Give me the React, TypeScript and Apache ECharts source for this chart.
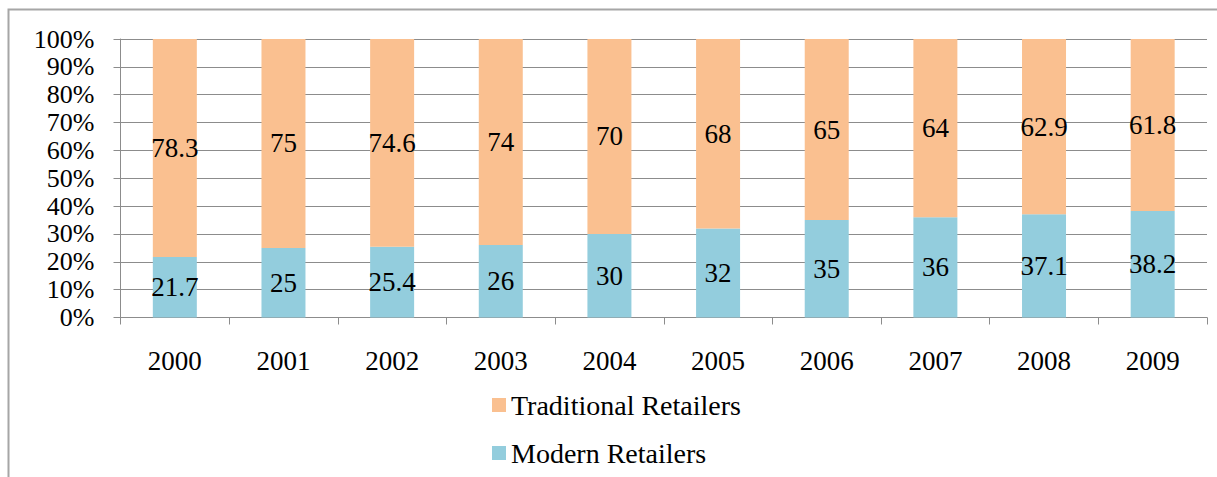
import React, { useEffect, useRef } from "react";
import * as echarts from "echarts";

const years = ["2000", "2001", "2002", "2003", "2004", "2005", "2006", "2007", "2008", "2009"];
const modern = [21.7, 25, 25.4, 26, 30, 32, 35, 36, 37.1, 38.2];
const traditional = [78.3, 75, 74.6, 74, 70, 68, 65, 64, 62.9, 61.8];

const FONT = "Liberation Serif";

export default function App() {
  const ref = useRef<HTMLDivElement>(null);
  useEffect(() => {
    if (!ref.current) return;
    const chart = echarts.init(ref.current, null, { renderer: "svg" });
    const labelStyle = {
      show: true,
      position: "inside",
      color: "#000",
      fontFamily: FONT,
      fontSize: 27,
    };
    const legendText = { fontFamily: FONT, fontSize: 28, color: "#000", lineHeight: 30 };
    chart.setOption({
      animation: false,
      backgroundColor: "#fff",
      textStyle: { fontFamily: FONT },
      graphic: [
        {
          type: "polyline",
          shape: { points: [[8.5, 477], [8.5, 9.5], [1217, 9.5]] },
          style: { stroke: "#a6a6a6", lineWidth: 2, fill: "none" },
          silent: true,
        },
      ],
      grid: { left: 120.5, top: 39, right: 10, bottom: 159.5, containLabel: false },
      legend: [
        {
          left: 492,
          top: 390,
          padding: 0,
          itemWidth: 14,
          itemHeight: 14,
          icon: "rect",
          data: ["Traditional Retailers"],
          textStyle: legendText,
        },
        {
          left: 492,
          top: 438,
          padding: 0,
          itemWidth: 14,
          itemHeight: 14,
          icon: "rect",
          data: ["Modern Retailers"],
          textStyle: legendText,
        },
      ],
      xAxis: {
        type: "category",
        data: years,
        axisLine: { show: true, lineStyle: { color: "#8c8c8c", width: 1 } },
        axisTick: { show: true, length: 7, lineStyle: { color: "#8c8c8c" } },
        axisLabel: { color: "#000", fontFamily: FONT, fontSize: 27, margin: 30 },
      },
      yAxis: {
        type: "value",
        min: 0,
        max: 100,
        interval: 10,
        axisLine: { show: true, lineStyle: { color: "#8c8c8c", width: 1 } },
        axisTick: { show: true, length: 7, lineStyle: { color: "#8c8c8c" } },
        axisLabel: { color: "#000", fontFamily: FONT, fontSize: 26, margin: 26, formatter: "{value}%" },
        splitLine: { show: true, lineStyle: { color: "#8c8c8c", width: 1 } },
      },
      series: [
        {
          name: "Modern Retailers",
          type: "bar",
          stack: "total",
          data: modern,
          barWidth: 44,
          itemStyle: { color: "#93CDDD" },
          label: labelStyle,
        },
        {
          name: "Traditional Retailers",
          type: "bar",
          stack: "total",
          data: traditional,
          barWidth: 44,
          itemStyle: { color: "#FAC090" },
          label: labelStyle,
        },
      ],
    });
    return () => chart.dispose();
  }, []);
  return (
    <div
      ref={ref}
      style={{ position: "fixed", left: 0, top: 0, width: 1217, height: 477 }}
    />
  );
}
